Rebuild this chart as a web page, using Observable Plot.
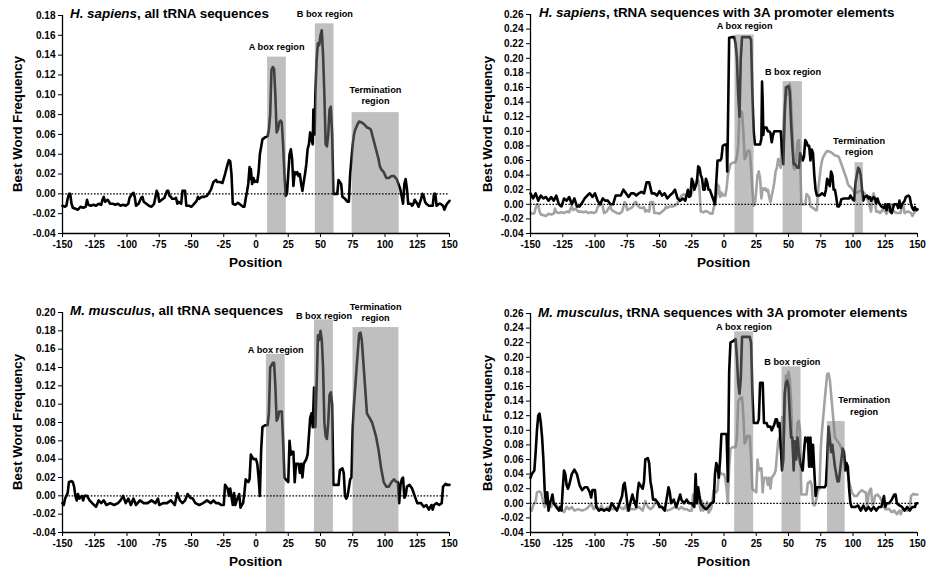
<!DOCTYPE html>
<html>
<head>
<meta charset="utf-8">
<script src="https://cdn.jsdelivr.net/npm/d3@7"></script>
<script src="https://cdn.jsdelivr.net/npm/@observablehq/plot@0.6"></script>
<style>
  html, body { margin: 0; padding: 0; background: #fff; }
  #root { position: relative; width: 927px; height: 572px; overflow: hidden; font-family: "Liberation Sans", Arial, sans-serif; font-weight: bold; color: #000; }
  .panel { position: absolute; }
  .title { position: absolute; font-size: 13.4px; line-height: 16px; height: 16px; white-space: nowrap; }
  .ylab { position: absolute; font-size: 13.2px; line-height: 16px; white-space: nowrap; transform: translate(-50%, -50%) rotate(-90deg); }
  .xlab { position: absolute; font-size: 13.5px; line-height: 16px; white-space: nowrap; transform: translate(-50%, -50%); }
</style>
</head>
<body>
<div id="root"></div>
<script>
// ---------- tick labels ----------
const xTicks = [-150, -125, -100, -75, -50, -25, 0, 25, 50, 75, 100, 125, 150];
const yTicks018 = [-0.04, -0.02, 0.00, 0.02, 0.04, 0.06, 0.08, 0.10, 0.12, 0.14, 0.16, 0.18];
const yTicks020 = [-0.04, -0.02, 0.00, 0.02, 0.04, 0.06, 0.08, 0.10, 0.12, 0.14, 0.16, 0.18, 0.20];
const yTicks026 = [-0.04, -0.02, 0.00, 0.02, 0.04, 0.06, 0.08, 0.10, 0.12, 0.14, 0.16, 0.18, 0.20, 0.22, 0.24, 0.26];

// ---------- series: [position, best word frequency] ----------
const hsAll = [
[-150,-0.012],[-148,-0.013],[-147,-0.012],[-146,-0.005],[-145,0.0],[-144,0.0],[-143,-0.01],[-142,-0.014],[-140,-0.015],[-138,-0.016],
[-136,-0.013],[-134,-0.014],[-132,-0.013],[-131,-0.006],[-130,-0.011],[-128,-0.012],[-126,-0.011],[-124,-0.012],[-122,-0.01],[-120,-0.011],
[-119,-0.006],[-118,-0.003],[-117,-0.008],[-115,-0.006],[-113,-0.01],[-111,-0.01],[-109,-0.011],[-107,-0.01],[-105,-0.012],[-103,-0.011],
[-101,-0.012],[-99,-0.01],[-98,-0.004],[-96,0.0],[-95,0.001],[-94,-0.003],[-93,-0.012],[-91,-0.01],[-89,-0.004],[-88,-0.003],
[-87,-0.008],[-85,-0.01],[-83,-0.012],[-81,-0.013],[-79,-0.01],[-77,0.003],[-76,0.0],[-75,-0.008],[-73,-0.006],[-71,-0.004],
[-69,0.003],[-68,0.003],[-67,-0.002],[-66,-0.003],[-65,-0.005],[-63,-0.005],[-62,-0.004],[-61,-0.01],[-60,-0.008],[-58,-0.01],
[-57,0.003],[-55,0.003],[-54,-0.012],[-52,-0.012],[-50,-0.013],[-48,-0.01],[-46,-0.007],[-45,-0.003],[-44,-0.005],[-42,-0.003],
[-40,-0.003],[-38,-0.002],[-36,0.002],[-35,0.004],[-33,0.012],[-31,0.014],[-30,0.012],[-28,0.012],[-26,0.011],[-24,0.02],
[-22,0.03],[-21,0.034],[-20,0.033],[-19,0.02],[-18,-0.01],[-16,-0.011],[-14,-0.009],[-12,-0.011],[-10,-0.013],[-9,-0.013],
[-8,-0.005],[-7,0.002],[-6,0.01],[-5,0.027],[-4.5,0.015],[-4,0.025],[-3,0.01],[-2,0.016],[-1,0.012],[0,0.013],
[1,0.012],[2,0.022],[3,0.04],[5,0.055],[7,0.057],[9,0.058],[10,0.065],[11,0.08],[12,0.125],[13,0.128],
[14,0.126],[15,0.1],[16,0.062],[17,0.065],[18,0.072],[19,0.074],[20,0.072],[21,0.05],[22,0.02],[23,-0.002],
[24,0.0],[25,0.02],[26,0.04],[27,0.045],[28,0.035],[29,0.008],[30,0.022],[31,0.02],[32,0.022],[33,0.018],
[34,0.02],[35,0.01],[36,0.003],[37,0.012],[38,0.02],[39,0.03],[40,0.045],[41,0.05],[42,0.062],[43,0.055],
[44,0.05],[44.5,0.085],[45,0.085],[45.5,0.06],[46,0.1],[47,0.135],[48,0.152],[49,0.15],[50,0.16],[51,0.165],
[52,0.14],[53,0.1],[54,0.05],[55,0.048],[56,0.06],[57,0.085],[58,0.088],[59,0.06],[60,0.0],[62,0.0],
[63,0.0],[64,0.014],[65,0.012],[66,0.01],[67,-0.003],[69,-0.005],[71,-0.008],[72,-0.008],[73,0.02],[74,0.035],
[75,0.05],[76,0.06],[77,0.065],[78,0.068],[79,0.071],[80,0.073],[82,0.072],[84,0.07],[86,0.067],[88,0.066],
[89,0.065],[90,0.06],[92,0.05],[93,0.045],[95,0.035],[96,0.028],[97,0.025],[99,0.022],[101,0.016],[103,0.016],
[105,0.018],[107,0.018],[109,0.015],[111,0.008],[112,0.004],[113,-0.003],[114,-0.01],[115,0.01],[116,0.015],[117,0.005],
[118,-0.01],[120,-0.01],[121,-0.012],[122,-0.01],[123,-0.006],[125,-0.01],[126,-0.013],[128,-0.005],[129,0.0],[130,-0.002],
[131,-0.008],[132,-0.01],[134,-0.012],[136,-0.012],[137,-0.012],[138,0.0],[139,0.0],[140,-0.012],[142,-0.01],[143,-0.01],
[145,-0.012],[146,-0.016],[148,-0.01],[150,-0.007]
];

const hs3A = [
[-150,0.015],[-148,0.008],[-146,0.015],[-144,0.005],[-142,0.012],[-140,0.008],[-138,0.01],[-136,0.005],[-134,0.01],[-132,0.005],
[-130,0.012],[-128,0.0],[-126,-0.003],[-124,0.008],[-122,0.005],[-120,0.01],[-118,0.0],[-116,0.008],[-114,-0.003],[-112,-0.003],
[-110,0.002],[-108,0.008],[-106,0.012],[-104,0.015],[-102,0.01],[-100,0.015],[-98,0.005],[-96,0.0],[-94,0.008],[-92,0.005],
[-90,0.005],[-88,0.0],[-86,0.0],[-84,0.012],[-82,0.012],[-80,0.012],[-78,0.02],[-76,0.015],[-74,0.01],[-72,0.015],
[-70,0.015],[-68,0.012],[-66,0.015],[-64,0.017],[-62,0.015],[-60,0.03],[-58,0.03],[-56,0.015],[-54,0.015],[-52,0.012],
[-50,0.018],[-48,0.012],[-46,0.015],[-44,0.008],[-42,0.012],[-40,0.015],[-38,0.02],[-36,0.008],[-34,0.005],[-32,0.008],
[-30,0.005],[-28,0.02],[-27,0.01],[-26,0.012],[-25,0.035],[-24,0.03],[-23,0.02],[-21,0.03],[-20,0.052],[-19,0.05],
[-18,0.04],[-17,0.035],[-16,0.02],[-15,0.02],[-14,0.035],[-13,0.03],[-12,0.02],[-11,0.02],[-10,0.015],[-9,0.01],
[-8,0.005],[-7,0.0],[-6,0.03],[-5,0.06],[-3,0.06],[-2,0.063],[-1,0.08],[1,0.082],[2,0.082],[2.5,0.045],
[3,0.1],[4,0.228],[6,0.229],[8,0.229],[9,0.22],[10,0.2],[11,0.15],[12,0.12],[13,0.2],[14,0.229],
[17,0.229],[20,0.229],[21,0.225],[22,0.15],[23,0.1],[24,0.082],[26,0.082],[28,0.082],[29,0.09],[29.5,0.168],
[30,0.14],[30.5,0.095],[31,0.105],[33,0.105],[34,0.1],[35,0.1],[36,0.098],[37,0.085],[38,0.095],[39,0.1],
[41,0.1],[43,0.1],[44,0.1],[45,0.075],[46,0.055],[47,0.12],[48,0.16],[50,0.162],[51,0.155],[52,0.11],
[53,0.08],[54,0.055],[55,0.055],[57,0.05],[58,0.05],[59,0.07],[60,0.065],[61,0.06],[62,0.065],[63,0.088],
[64,0.085],[65,0.08],[66,0.08],[67,0.06],[68,0.075],[69,0.07],[70,0.04],[71,0.02],[72,0.012],[74,0.012],
[76,0.015],[78,0.012],[79,0.02],[80,0.035],[81,0.03],[82,0.025],[83,0.045],[84,0.04],[85,0.02],[86,0.02],
[87,0.01],[88,-0.003],[89,-0.003],[90,0.0],[91,0.007],[93,0.008],[95,0.008],[97,0.008],[98,0.012],[100,0.006],
[101,0.005],[102,0.03],[103,0.04],[104,0.05],[105,0.048],[106,0.04],[107,0.02],[108,0.005],[109,0.01],[111,0.012],
[112,0.008],[113,0.01],[114,0.005],[116,0.01],[117,0.008],[118,0.002],[119,0.008],[120,0.002],[122,-0.003],[124,-0.005],
[125,0.0],[126,-0.008],[127,0.0],[128,0.0],[129,-0.01],[130,-0.012],[131,-0.005],[132,0.0],[134,0.0],[135,-0.005],
[136,0.005],[137,-0.005],[138,0.0],[140,0.005],[141,0.01],[143,0.012],[144,0.01],[145,0.0],[146,-0.005],[147,-0.008],
[148,-0.004],[149,-0.008],[150,-0.007]
];

const mmAll = [
[-150,-0.008],[-149,-0.01],[-148,-0.003],[-147,0.0],[-146,0.003],[-145,0.015],[-143,0.016],[-142,0.015],[-141,0.01],[-140,0.0],
[-139,-0.005],[-138,0.002],[-137,-0.003],[-135,0.0],[-134,-0.005],[-133,0.0],[-131,0.0],[-129,-0.005],[-127,-0.008],[-124,-0.012],
[-122,-0.005],[-120,-0.008],[-118,-0.005],[-116,-0.01],[-113,-0.008],[-110,-0.01],[-107,-0.008],[-105,-0.005],[-103,0.0],[-101,-0.008],
[-99,-0.003],[-97,-0.01],[-95,-0.003],[-93,-0.01],[-90,-0.005],[-87,-0.008],[-84,-0.008],[-81,-0.005],[-78,-0.008],[-76,-0.003],
[-75,-0.01],[-72,-0.008],[-69,-0.008],[-66,-0.005],[-63,-0.01],[-61,0.003],[-59,-0.005],[-57,-0.008],[-55,-0.005],[-53,0.002],
[-51,-0.002],[-49,-0.003],[-47,-0.008],[-44,-0.01],[-41,-0.008],[-38,-0.005],[-35,-0.008],[-33,-0.005],[-31,-0.008],[-29,-0.008],
[-27,-0.01],[-25,-0.01],[-24,0.012],[-22,0.008],[-21,0.0],[-20,0.008],[-18,-0.01],[-17,0.003],[-16,-0.01],[-15,-0.005],
[-13,0.002],[-12,-0.013],[-11,-0.01],[-10,-0.008],[-9,0.003],[-8,0.018],[-6,0.015],[-5,0.018],[-4,0.045],[-2,0.04],
[0,0.04],[1,0.035],[2,0.02],[3,0.0],[4,0.05],[5,0.075],[7,0.077],[9,0.077],[10,0.09],[11,0.14],
[13,0.145],[14,0.145],[15,0.12],[16,0.082],[17,0.085],[18,0.092],[20,0.092],[21,0.06],[22,0.02],[23,0.018],
[25,0.015],[26,0.06],[27,0.045],[28,0.048],[29,0.048],[30,0.015],[31,0.035],[33,0.035],[34,0.025],[35,0.035],
[36,0.02],[37,0.035],[39,0.04],[40,0.045],[42,0.085],[43,0.09],[44,0.075],[45,0.118],[46,0.075],[47,0.12],
[48,0.175],[49,0.17],[50,0.18],[51,0.17],[52,0.14],[53,0.08],[54,0.065],[55,0.062],[56,0.08],[57,0.11],
[58,0.113],[59,0.1],[60,0.012],[62,0.012],[64,0.012],[65,0.028],[67,0.03],[68,0.025],[69,0.0],[70,-0.003],
[71,0.0],[73,0.018],[74,0.02],[75,0.075],[76,0.1],[78,0.14],[80,0.177],[81,0.178],[82,0.17],[84,0.13],
[86,0.09],[88,0.085],[90,0.08],[92,0.07],[93,0.065],[95,0.05],[97,0.03],[99,0.015],[101,0.01],[103,0.01],
[105,0.015],[107,0.018],[109,0.015],[110,0.015],[111,-0.008],[112,0.012],[113,0.018],[114,0.02],[115,-0.002],[116,0.0],
[117,0.01],[119,0.012],[121,0.008],[123,0.0],[125,-0.008],[128,-0.008],[130,-0.012],[132,-0.01],[134,-0.015],[136,-0.01],
[137,-0.015],[138,-0.01],[140,-0.008],[142,-0.01],[144,-0.008],[145,0.01],[147,0.013],[148,0.012],[150,0.012]
];

const mm3A = [
[-150,0.035],[-149,0.04],[-147,0.045],[-146,0.07],[-145,0.1],[-144,0.12],[-143,0.123],[-142,0.11],[-141,0.09],[-140,0.06],
[-139,0.018],[-138,0.0],[-137,0.015],[-136,-0.01],[-135,0.0],[-134,0.005],[-133,0.012],[-132,0.0],[-130,-0.005],[-128,-0.01],
[-127,-0.005],[-126,-0.01],[-125,0.02],[-124,0.045],[-123,0.04],[-122,0.025],[-121,0.02],[-120,0.025],[-118,0.04],[-116,0.046],
[-114,0.04],[-112,0.025],[-110,0.018],[-108,0.022],[-106,0.022],[-104,0.015],[-103,0.008],[-102,0.018],[-100,0.018],[-99,-0.005],
[-97,-0.01],[-95,-0.008],[-93,-0.01],[-91,-0.008],[-89,-0.01],[-87,0.0],[-85,-0.005],[-83,-0.01],[-81,0.0],[-79,0.01],
[-78,0.025],[-77,0.028],[-76,0.015],[-75,0.0],[-74,-0.01],[-72,0.005],[-71,0.012],[-70,0.005],[-68,-0.005],[-67,0.015],
[-66,0.028],[-65,0.025],[-63,0.02],[-62,0.03],[-61,0.06],[-59,0.062],[-58,0.055],[-57,0.03],[-56,0.02],[-55,0.005],
[-53,0.005],[-51,0.0],[-50,-0.005],[-48,-0.005],[-46,-0.01],[-45,0.0],[-43,0.022],[-42,0.015],[-41,0.0],[-39,0.005],
[-37,-0.005],[-36,0.0],[-34,0.012],[-33,0.005],[-31,0.0],[-29,0.005],[-27,0.0],[-25,0.0],[-23,-0.005],[-22,0.04],
[-21,0.0],[-20,0.022],[-19,0.01],[-18,0.0],[-16,-0.005],[-14,-0.008],[-12,-0.005],[-10,0.0],[-8,0.002],[-7,0.04],
[-6,0.055],[-5,0.05],[-4,0.035],[-3,0.06],[-2,0.095],[0,0.095],[2,0.095],[3,0.03],[4,0.18],[5,0.22],
[7,0.222],[9,0.225],[10,0.2],[11,0.165],[12,0.15],[13,0.17],[14,0.228],[18,0.228],[20,0.228],[21,0.22],
[22,0.15],[23,0.11],[26,0.11],[27,0.115],[28,0.165],[30,0.165],[31,0.11],[33,0.11],[34,0.105],[36,0.105],
[37,0.1],[39,0.108],[40,0.115],[41,0.115],[42,0.105],[43,0.11],[45,0.045],[46,0.06],[47,0.15],[48,0.165],
[49,0.168],[50,0.16],[51,0.12],[52,0.09],[53,0.09],[54,0.045],[55,0.085],[56,0.06],[57,0.09],[58,0.07],
[59,0.055],[60,0.05],[61,0.045],[62,0.07],[63,0.09],[64,0.085],[65,0.09],[66,0.05],[67,0.09],[68,0.05],
[69,0.08],[70,0.045],[71,0.01],[72,0.022],[74,0.022],[78,0.022],[79,0.025],[80,0.06],[81,0.105],[82,0.09],
[83,0.07],[84,0.08],[85,0.065],[86,0.05],[87,0.04],[88,0.03],[89,0.03],[90,0.045],[92,0.075],[93,0.07],
[94,0.045],[95,0.055],[96,0.05],[97,0.02],[98,0.0],[99,-0.005],[100,-0.005],[102,-0.005],[104,-0.003],[106,-0.01],
[108,-0.003],[110,-0.01],[112,-0.005],[114,-0.01],[116,-0.005],[118,-0.01],[120,-0.005],[122,-0.005],[124,0.01],[125,-0.005],
[126,0.0],[128,0.0],[130,0.005],[132,0.012],[133,0.012],[134,0.0],[136,-0.003],[138,-0.005],[140,-0.01],[142,-0.005],
[144,-0.01],[146,-0.005],[148,-0.005],[149,0.0],[150,0.0]
];

// ---------- shaded regions: [start, end, top] ----------
const hsAllRegions = [[9, 23.5, 0.138], [46, 60.5, 0.1716], [74.5, 111, 0.082]];
const hs3ARegions  = [[8.5, 23.3, 0.232], [45.8, 60.8, 0.168], [101.6, 108, 0.057]];
const mmAllRegions = [[8.1, 22.6, 0.1544], [45.3, 60, 0.192], [75.2, 110.8, 0.1836]];
const mm3ARegions  = [[8.3, 23, 0.235], [45, 59.7, 0.187], [80.2, 93.9, 0.112]];

// ---------- region labels: [text, position, frequency] ----------
const hsAllLabels = [["A box region", 16, 0.149], ["B box region", 53.4, 0.1817], ["Termination\nregion", 92.6, 0.0996]];
const hs3ALabels  = [["A box region", 16, 0.2454], ["B box region", 53.5, 0.1823], ["Termination\nregion", 104.7, 0.080]];
const mmAllLabels = [["A box region", 15.3, 0.1599], ["B box region", 52.7, 0.1964], ["Termination\nregion", 92.7, 0.2009]];
const mm3ALabels  = [["A box region", 15.5, 0.2417], ["B box region", 53, 0.1946], ["Termination\nregion", 108.6, 0.134]];

// ---------- titles ----------
const titles = [
  ["H. sapiens", ", all tRNA sequences"],
  ["H. sapiens", ", tRNA sequences with 3A promoter elements"],
  ["M. musculus", ", all tRNA sequences"],
  ["M. musculus", ", tRNA sequences with 3A promoter elements"]
];
const yLabel = "Best Word Frequency";
const xLabel = "Position";

const root = document.getElementById("root");

function makePanel(cfg) {
  const yMin = cfg.yTicks[0], yMax = cfg.yTicks[cfg.yTicks.length - 1];
  const marks = [];
  if (cfg.gray) marks.push(Plot.line(cfg.gray, {x: d => d[0], y: d => d[1], stroke: "#a3a3a3", strokeWidth: 2.6, strokeLinejoin: "round"}));
  marks.push(Plot.line(cfg.black, {x: d => d[0], y: d => d[1], stroke: "#000", strokeWidth: 2.6, strokeLinejoin: "round"}));
  marks.push(Plot.rect(cfg.regions, {x1: d => d[0], x2: d => d[1], y1: () => yMin, y2: d => d[2], fill: "#808080", fillOpacity: 0.5}));
  marks.push(Plot.ruleY([0], {stroke: "#000", strokeWidth: 1.2, strokeDasharray: "1.6,1.6"}));
  marks.push(Plot.text(cfg.labels, {x: d => d[1], y: d => d[2], text: d => d[0], fontSize: 9.2, fontWeight: "bold", lineHeight: 1.2, fill: "#000"}));
  marks.push(Plot.ruleX([-150], {stroke: "#000", strokeWidth: 1.3}));
  marks.push(Plot.ruleY([yMin], {stroke: "#000", strokeWidth: 1.3}));
  marks.push(Plot.axisX(xTicks, {tickSize: 4, tickPadding: 3, tickFormat: d => String(d), fontSize: 10, fontWeight: "bold", label: null, stroke: "#000"}));
  marks.push(Plot.axisY(cfg.yTicks, {tickSize: 4, tickPadding: 3, tickFormat: d => d.toFixed(2), fontSize: 10, fontWeight: "bold", label: null, stroke: "#000"}));
  const svg = Plot.plot({
    width: cfg.width, height: cfg.height,
    marginLeft: cfg.ml, marginRight: cfg.mr, marginTop: cfg.mt, marginBottom: cfg.mb,
    style: {fontFamily: "'Liberation Sans', Arial, sans-serif", fontWeight: "bold", fontSize: "10px", color: "#000", background: "transparent", overflow: "visible"},
    x: {domain: [-150, 150]},
    y: {domain: [yMin, yMax]},
    marks
  });
  const div = document.createElement("div");
  div.className = "panel";
  div.style.left = cfg.left + "px";
  div.style.top = cfg.top + "px";
  div.appendChild(svg);
  root.appendChild(div);

  const t = document.createElement("div");
  t.className = "title";
  t.style.left = cfg.titleX + "px";
  t.style.top = (cfg.titleY - 8) + "px";
  const it = document.createElement("i");
  it.textContent = cfg.title[0];
  t.appendChild(it);
  t.appendChild(document.createTextNode(cfg.title[1]));
  root.appendChild(t);

  const yl = document.createElement("div");
  yl.className = "ylab";
  yl.textContent = yLabel;
  yl.style.left = (cfg.left + cfg.ylabX) + "px";
  yl.style.top = (cfg.top + cfg.mt + (cfg.height - cfg.mt - cfg.mb) / 2) + "px";
  root.appendChild(yl);

  const xl = document.createElement("div");
  xl.className = "xlab";
  xl.textContent = xLabel;
  xl.style.left = (cfg.left + cfg.ml + (cfg.width - cfg.ml - cfg.mr) / 2) + "px";
  xl.style.top = cfg.xlabY + "px";
  root.appendChild(xl);
}

makePanel({black: hsAll, regions: hsAllRegions, labels: hsAllLabels, yTicks: yTicks018, left: 0, top: 0, width: 463, height: 285, ml: 62, mr: 14, mt: 15, mb: 52, title: titles[0], titleX: 70, titleY: 14, ylabX: 18, xlabY: 263});
makePanel({gray: hsAll, black: hs3A, regions: hs3ARegions, labels: hs3ALabels, yTicks: yTicks026, left: 463, top: 0, width: 464, height: 285, ml: 67, mr: 10, mt: 14, mb: 52, title: titles[1], titleX: 539, titleY: 12.5, ylabX: 25, xlabY: 263});
makePanel({black: mmAll, regions: mmAllRegions, labels: mmAllLabels, yTicks: yTicks020, left: 0, top: 285, width: 463, height: 287, ml: 62, mr: 14, mt: 27, mb: 40, title: titles[2], titleX: 70, titleY: 310.5, ylabX: 18, xlabY: 562});
makePanel({gray: mmAll, black: mm3A, regions: mm3ARegions, labels: mm3ALabels, yTicks: yTicks026, left: 463, top: 285, width: 464, height: 287, ml: 67, mr: 10, mt: 28, mb: 40, title: titles[3], titleX: 538, titleY: 312.5, ylabX: 25, xlabY: 562});
</script>
</body>
</html>
